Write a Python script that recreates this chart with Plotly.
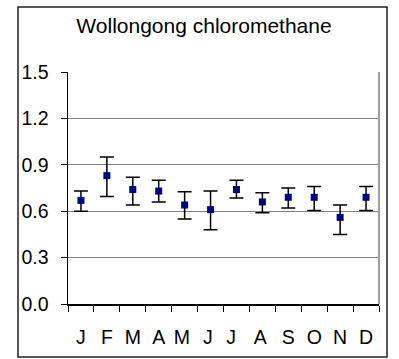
import plotly.graph_objects as go

months = ["J", "F", "M", "A", "M ", "J ", "J  ", "A ", "S", "O", "N", "D"]
means = [0.67, 0.83, 0.74, 0.73, 0.64, 0.61, 0.74, 0.66, 0.69, 0.69, 0.56, 0.69]
err_plus = [0.06, 0.12, 0.08, 0.07, 0.085, 0.12, 0.06, 0.06, 0.06, 0.07, 0.08, 0.07]
err_minus = [0.07, 0.135, 0.10, 0.07, 0.09, 0.13, 0.055, 0.07, 0.07, 0.085, 0.11, 0.085]
y_ticks = [0.0, 0.3, 0.6, 0.9, 1.2, 1.5]
title_text = "Wollongong chloromethane"

FONT = "Liberation Sans, Arial, sans-serif"

fig = go.Figure()
fig.add_trace(go.Scatter(
    x=months, y=means, mode="markers",
    marker=dict(symbol="square", size=7, color="#000080"),
    error_y=dict(type="data", symmetric=False, array=err_plus, arrayminus=err_minus,
                 color="black", thickness=1.5, width=7),
    showlegend=False,
))

W, H = 399, 359
L, R, T, B = 68, 379, 72, 304
pw, ph = R - L, B - T

def px(x):
    return (x - L) / pw

def py(y):
    return (B - y) / ph

fig.update_layout(
    width=W, height=H,
    margin=dict(l=L, r=W - R, t=T, b=H - B, pad=0, autoexpand=False),
    paper_bgcolor="white", plot_bgcolor="white",
    font=dict(family=FONT, size=19, color="black"),
    title=dict(text=title_text, x=204 / W, xref="container", xanchor="center",
               y=1 - 26 / H, yref="container", yanchor="middle",
               font=dict(family=FONT, size=21, color="black")),
    xaxis=dict(type="category", range=[-0.5, 11.5], tickson="boundaries",
               ticks="outside", ticklen=6, tickcolor="black", tickwidth=1,
               showline=True, linecolor="black", linewidth=1.5,
               showgrid=False, zeroline=False, ticklabelstandoff=15,
               tickangle=0, automargin=False,
               tickfont=dict(family=FONT, size=19.5, color="black")),
    yaxis=dict(range=[0, 1.5], tickvals=y_ticks, tickformat=".1f",
               ticks="outside", ticklen=6, tickcolor="black", tickwidth=1,
               showline=True, linecolor="black", linewidth=1.5,
               showgrid=True, gridcolor="#808080", gridwidth=1,
               zeroline=False, ticklabelstandoff=8, automargin=False,
               tickfont=dict(family=FONT, size=19.5, color="black")),
    shapes=[
        dict(type="line", xref="paper", yref="paper", x0=1, x1=1, y0=0, y1=1,
             line=dict(color="#a0a0a0", width=2)),
        dict(type="rect", xref="paper", yref="paper",
             x0=px(18), x1=px(387), y0=py(357), y1=py(7),
             line=dict(color="#202020", width=1.5), fillcolor="rgba(0,0,0,0)",
             layer="above"),
    ],
)

fig.write_html("out.html", config={"displayModeBar": False, "staticPlot": True},
               post_script="document.body.style.margin='0';document.body.style.overflow='hidden';")
